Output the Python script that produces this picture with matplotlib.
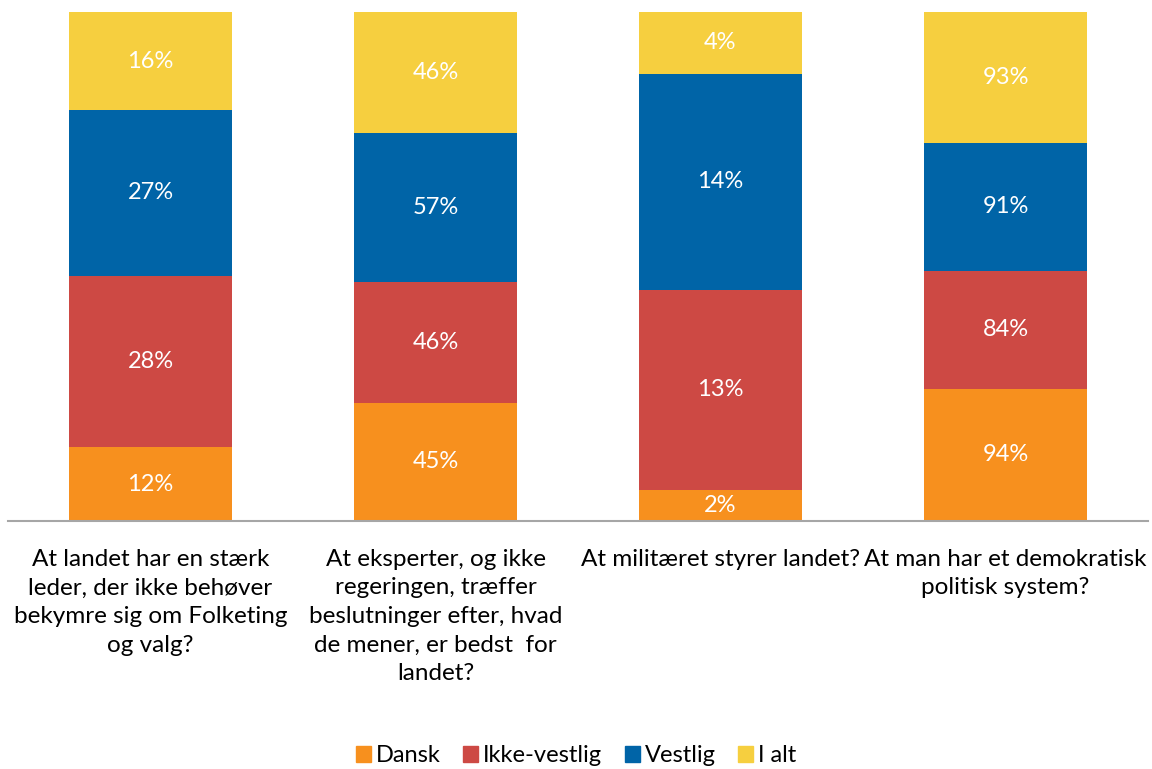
import numpy as np
import matplotlib.pyplot as plt
from matplotlib.patches import Patch

plt.rcParams['font.family'] = ['Lato', 'DejaVu Sans']

# spørgsmål (kategorier)
spoergsmaal = [
    "At landet har en stærk\nleder, der ikke behøver\nbekymre sig om Folketing\nog valg?",
    "At eksperter, og ikke\nregeringen, træffer\nbeslutninger efter, hvad\nde mener, er bedst  for\nlandet?",
    "At militæret styrer landet?",
    "At man har et demokratisk\npolitisk system?",
]

serier = ["Dansk", "Ikke-vestlig", "Vestlig", "I alt"]
dansk = [12, 45, 2, 94]
ikke_vestlig = [28, 46, 13, 84]
vestlig = [27, 57, 14, 91]
i_alt = [16, 46, 4, 93]

farver = ["#F7901E", "#CD4944", "#0064A7", "#F6CF3F"]

data = np.array([dansk, ikke_vestlig, vestlig, i_alt], dtype=float)
andel = data / data.sum(axis=0)

fig = plt.figure(figsize=(11.52, 7.69), dpi=100)
ax = fig.add_axes([8 / 1152, 1 - 521 / 769, 1140 / 1152, 509 / 769])

x = np.arange(len(spoergsmaal))
bund = np.zeros(len(spoergsmaal))
for i, navn in enumerate(serier):
    ax.bar(x, andel[i], 0.572, bottom=bund, color=farver[i], label=navn)
    for j in range(len(x)):
        ax.text(x[j], bund[j] + andel[i][j] / 2, f"{int(data[i][j])}%",
                ha='center', va='center', color='white', fontsize=17)
    bund += andel[i]

ax.set_xlim(-0.5, 3.5)
ax.set_ylim(0, 1)
ax.set_xticks(x)
ax.set_xticklabels(spoergsmaal, fontsize=17.5, linespacing=1.45)
ax.tick_params(axis='x', length=0, pad=20)
ax.set_yticks([])
for s in ['top', 'left', 'right']:
    ax.spines[s].set_visible(False)
ax.spines['bottom'].set_color('#A6A6A6')
ax.spines['bottom'].set_linewidth(1.5)

handles = [Patch(color=c) for c in farver]
fig.legend(handles, serier, loc='center', bbox_to_anchor=(0.5, 1 - 756 / 769),
           ncol=4, frameon=False, fontsize=17, handlelength=0.65, handleheight=0.65,
           handletextpad=0.2, columnspacing=0.95)

fig.savefig("out.png", dpi=100)
